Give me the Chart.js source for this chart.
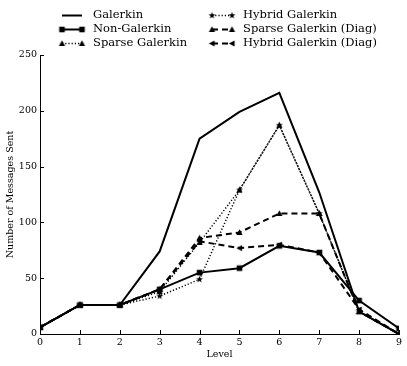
<!DOCTYPE html>
<html>
<head>
<meta charset="utf-8">
<script src="https://cdn.jsdelivr.net/npm/chart.js@4/dist/chart.umd.min.js"></script>
<style>
html,body{margin:0;padding:0;background:#fff;}
#wrap{width:407px;height:366px;position:relative;}
</style>
</head>
<body>
<div id="wrap"><canvas id="c" width="407" height="366"></canvas></div>
<script>
const levels = [0, 1, 2, 3, 4, 5, 6, 7, 8, 9];
const galerkin       = [6, 26, 26, 74, 175, 199, 216, 127, 20, 0];
const nonGalerkin    = [6, 26, 26, 40, 55, 59, 79, 73, 30, 5];
const sparseGalerkin = [6, 26, 26, 38, 82, 129, 187, 108, 20, 0];
const hybridGalerkin = [6, 26, 26, 34, 49, 129, 187, 108, 20, 0];
const sparseDiag     = [6, 26, 26, 40, 86, 91, 108, 108, 20, 0];
const hybridDiag     = [6, 26, 26, 40, 83, 77, 80, 73, 22, 0];
const yTicks = [0, 50, 100, 150, 200, 250];
const seriesNames = ['Galerkin', 'Non-Galerkin', 'Sparse Galerkin', 'Hybrid Galerkin', 'Sparse Galerkin (Diag)', 'Hybrid Galerkin (Diag)'];

const FONT = '"DejaVu Serif", serif';

function makeMarker(type) {
  const s = 9;
  const c = document.createElement('canvas');
  c.width = s; c.height = s;
  const g = c.getContext('2d');
  g.fillStyle = '#000';
  const m = s / 2;
  g.beginPath();
  if (type === 'square') {
    g.rect(m - 2.8, m - 2.8, 5.6, 5.6);
  } else if (type === 'triangle') {
    g.moveTo(m, m - 3.2); g.lineTo(m + 3.1, m + 2.6); g.lineTo(m - 3.1, m + 2.6);
  } else if (type === 'left') {
    g.moveTo(m - 3.2, m); g.lineTo(m + 2.6, m - 3.0); g.lineTo(m + 2.6, m + 3.0);
  } else if (type === 'star') {
    for (let i = 0; i < 10; i++) {
      const r = i % 2 === 0 ? 3.6 : 1.5;
      const a = -Math.PI / 2 + i * Math.PI / 5;
      const x = m + r * Math.cos(a), y = m + r * Math.sin(a);
      if (i === 0) g.moveTo(x, y); else g.lineTo(x, y);
    }
  }
  g.closePath();
  g.fill();
  return c;
}
const markers = {
  square: makeMarker('square'),
  triangle: makeMarker('triangle'),
  left: makeMarker('left'),
  star: makeMarker('star')
};

const styles = [
  {data: galerkin, dash: [], width: 2, marker: null},
  {data: nonGalerkin, dash: [], width: 2, marker: 'square'},
  {data: sparseGalerkin, dash: [1.2, 2], width: 1.5, marker: 'triangle'},
  {data: hybridGalerkin, dash: [1.2, 2], width: 1.5, marker: 'star'},
  {data: sparseDiag, dash: [6, 4], width: 2, marker: 'triangle'},
  {data: hybridDiag, dash: [6, 4], width: 2, marker: 'left'}
];

const datasets = styles.map((s, i) => ({
  label: seriesNames[i],
  data: s.data,
  borderColor: '#000',
  backgroundColor: '#000',
  borderWidth: s.width,
  borderDash: s.dash,
  tension: 0,
  fill: false,
  pointStyle: s.marker ? markers[s.marker] : false,
  pointRadius: s.marker ? 4 : 0,
  pointHoverRadius: s.marker ? 4 : 0
}));

const customPlugin = {
  id: 'custom',
  afterDraw(chart) {
    const ctx = chart.ctx;
    const xs = chart.scales.x, ys = chart.scales.y;
    const area = chart.chartArea;
    ctx.save();
    ctx.strokeStyle = '#000';
    ctx.lineWidth = 1;
    ctx.setLineDash([]);
    // inward ticks
    levels.forEach(v => {
      const px = Math.round(xs.getPixelForValue(v)) + 0.5;
      ctx.beginPath(); ctx.moveTo(px, area.bottom); ctx.lineTo(px, area.bottom - 4); ctx.stroke();
    });
    yTicks.forEach(v => {
      const py = Math.round(ys.getPixelForValue(v)) + 0.5;
      ctx.beginPath(); ctx.moveTo(area.left, py); ctx.lineTo(area.left + 4, py); ctx.stroke();
    });
    // legend (column-major, two columns)
    const colX = [62, 212];
    const rowY = [15, 29, 43];
    ctx.font = '11.5px ' + FONT;
    ctx.fillStyle = '#000';
    ctx.textBaseline = 'middle';
    styles.forEach((s, i) => {
      const col = Math.floor(i / 3), row = i % 3;
      const x0 = colX[col], y = rowY[row] + 0.5;
      ctx.save();
      ctx.lineWidth = s.width;
      ctx.setLineDash(s.dash);
      ctx.beginPath(); ctx.moveTo(x0, y); ctx.lineTo(x0 + 20, y); ctx.stroke();
      ctx.restore();
      if (s.marker) {
        const img = markers[s.marker];
        ctx.drawImage(img, x0 - img.width / 2, y - img.height / 2);
        ctx.drawImage(img, x0 + 20 - img.width / 2, y - img.height / 2);
      }
      ctx.fillText(seriesNames[i], x0 + 31, y);
    });
    ctx.restore();
  }
};

new Chart(document.getElementById('c'), {
  type: 'line',
  data: {labels: levels, datasets: datasets},
  plugins: [customPlugin],
  options: {
    responsive: false,
    animation: false,
    devicePixelRatio: 1,
    layout: {padding: {top: 55, right: 8, left: 5, bottom: 6}},
    plugins: {legend: {display: false}, tooltip: {enabled: false}},
    scales: {
      x: {
        type: 'linear',
        min: 0, max: 9,
        afterFit(scale) { scale.height = 26; },
        afterBuildTicks(scale) { scale.ticks = levels.map(v => ({value: v})); },
        grid: {display: false, drawTicks: false},
        border: {display: true, color: '#000', width: 1},
        ticks: {color: '#000', font: {family: FONT, size: 9.5}, padding: 3, maxRotation: 0},
        title: {display: true, text: 'Level', color: '#000', font: {family: FONT, size: 9.5}, padding: 0}
      },
      y: {
        min: 0, max: 250,
        afterFit(scale) { scale.width = 35; },
        afterBuildTicks(scale) { scale.ticks = yTicks.map(v => ({value: v})); },
        grid: {display: false, drawTicks: false},
        border: {display: true, color: '#000', width: 1},
        ticks: {color: '#000', font: {family: FONT, size: 9.5}, padding: 3},
        title: {display: true, text: 'Number of Messages Sent', color: '#000', font: {family: FONT, size: 9.5}, padding: 0}
      }
    }
  }
});
</script>
</body>
</html>
